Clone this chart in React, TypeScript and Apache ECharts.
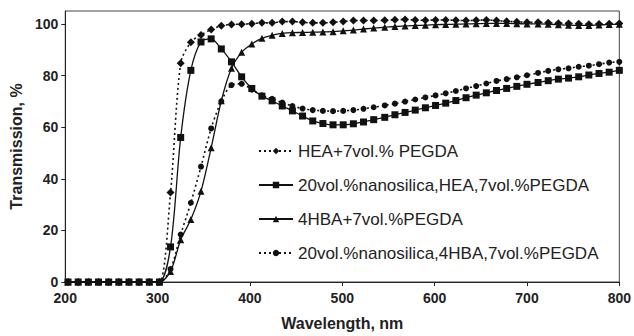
import React, { useEffect, useRef } from "react";
import * as echarts from "echarts";

const wavelengths = [203, 214, 225, 236, 247, 258, 269, 280, 291, 302, 314, 325, 336, 347, 358, 369, 380, 391, 402, 413, 424, 435, 446, 457, 468, 479, 490, 501, 512, 523, 534, 546, 557, 568, 579, 590, 601, 612, 623, 634, 645, 656, 667, 678, 689, 700, 712, 723, 734, 745, 756, 767, 778, 789, 800];

const heaPegda = [0, 0, 0, 0, 0, 0, 0, 0, 0, 0, 34.7, 84.8, 92.9, 95.7, 97.8, 99.3, 99.8, 99.9, 100.1, 100.4, 100.4, 100.9, 100.9, 100.6, 100.4, 100.4, 100.6, 100.9, 101.3, 101.3, 101.3, 101.4, 101.6, 101.7, 101.5, 101.4, 101.5, 101.5, 101.4, 101.3, 101.4, 101.5, 101.3, 101.0, 100.8, 100.6, 100.6, 100.4, 100.3, 100.2, 100.1, 99.9, 100.0, 100.1, 100.2];

const silicaHea = [0, 0, 0, 0, 0, 0, 0, 0, 0, 0, 13.6, 56, 82, 93, 94.2, 90.3, 85.3, 79.5, 75, 72, 70.2, 68.2, 66.3, 64.3, 62.4, 61.4, 60.9, 60.9, 61.3, 62.0, 62.9, 63.8, 64.8, 65.7, 66.6, 67.5, 68.4, 69.3, 70.3, 71.4, 72.4, 73.3, 74.2, 75.0, 75.8, 76.6, 77.3, 78.0, 78.6, 79.0, 79.5, 80.2, 80.8, 81.3, 82.0];

const hbaPegda = [0, 0, 0, 0, 0, 0, 0, 0, 0, 0, 4.1, 16.4, 24.2, 35.2, 52, 70.2, 82.8, 89, 92.2, 94.4, 95.6, 96.3, 96.6, 96.7, 96.8, 96.9, 97.0, 97.3, 97.6, 98.0, 98.4, 98.7, 99.0, 99.2, 99.4, 99.5, 99.7, 99.8, 99.9, 100.0, 100.1, 100.2, 100.2, 100.2, 100.1, 100.0, 100.0, 99.9, 99.7, 99.5, 99.4, 99.4, 99.6, 99.8, 99.9];

const silicaHba = [0, 0, 0, 0, 0, 0, 0, 0, 0, 0, 5, 18.4, 30.7, 44.7, 59.5, 70, 76.3, 76.8, 74.5, 72.3, 71.0, 69.5, 68.2, 67.2, 66.6, 66.3, 66.2, 66.3, 66.6, 67.1, 67.7, 68.4, 69.1, 69.9, 70.7, 71.5, 72.3, 73.1, 74.0, 75.0, 75.9, 76.9, 77.9, 78.6, 79.3, 80.1, 81.0, 81.8, 82.4, 82.8, 83.4, 83.8, 84.4, 85.0, 85.3];

const seriesNames = [
  "HEA+7vol.% PEGDA",
  "20vol.%nanosilica,HEA,7vol.%PEGDA",
  "4HBA+7vol.%PEGDA",
  "20vol.%nanosilica,4HBA,7vol.%PEGDA",
];

const xTitle = "Wavelength, nm";
const yTitle = "Transmission, %";

const FONT = "Arial, 'Liberation Sans', sans-serif";
const INK = "#111";

export default function App() {
  const ref = useRef<HTMLDivElement>(null);
  useEffect(() => {
    if (!ref.current) return;
    const chart = echarts.init(ref.current, null, { renderer: "svg" });
    const pairs = (vals: number[]) => wavelengths.map((w, i) => [w, vals[i]]);
    const mk = (
      name: string,
      vals: number[],
      symbol: string,
      size: number,
      dotted: boolean
    ) => ({
      type: "line",
      name,
      data: pairs(vals),
      symbol,
      symbolSize: size,
      smooth: 0.3,
      lineStyle: { color: INK, width: dotted ? 1.6 : 1.3, type: dotted ? [2, 3] : "solid" },
      itemStyle: { color: INK, borderWidth: 0 },
      clip: false,
    });
    chart.setOption({
      animation: false,
      backgroundColor: "#fff",
      grid: {
        left: 65,
        right: 10,
        top: 11,
        bottom: 54,
        show: true,
        borderColor: "#444",
        borderWidth: 1,
      },
      xAxis: {
        type: "value",
        min: 200,
        max: 800,
        interval: 100,
        name: xTitle,
        nameLocation: "middle",
        nameGap: 33,
        nameTextStyle: { fontFamily: FONT, fontWeight: "bold", fontSize: 16, color: "#222" },
        axisLine: { show: true, lineStyle: { color: "#222", width: 1 } },
        axisTick: { show: true, inside: false, length: 4, lineStyle: { color: "#222" } },
        axisLabel: { fontFamily: FONT, fontWeight: "bold", fontSize: 14, color: "#222", margin: 9 },
        splitLine: { show: false },
      },
      yAxis: {
        type: "value",
        min: 0,
        max: 105,
        interval: 20,
        name: yTitle,
        nameLocation: "middle",
        nameGap: 38,
        nameTextStyle: { fontFamily: FONT, fontWeight: "bold", fontSize: 16, color: "#222" },
        axisLine: { show: true, lineStyle: { color: "#222", width: 1 } },
        axisTick: { show: true, inside: false, length: 4, lineStyle: { color: "#222" } },
        axisLabel: {
          fontFamily: FONT,
          fontWeight: "bold",
          fontSize: 14,
          color: "#222",
          margin: 7,
          showMaxLabel: false,
        },
        splitLine: { show: false },
      },
      legend: {
        orient: "vertical",
        left: 253,
        top: 136,
        itemWidth: 34,
        itemHeight: 8,
        itemGap: 14,
        textStyle: { fontFamily: FONT, fontSize: 17, color: "#222", lineHeight: 20 },
        data: seriesNames,
      },
      series: [
        mk(seriesNames[0], heaPegda, "diamond", 8, true),
        mk(seriesNames[1], silicaHea, "rect", 7, false),
        mk(seriesNames[2], hbaPegda, "triangle", 7, false),
        mk(seriesNames[3], silicaHba, "circle", 6, true),
      ],
    });
    return () => chart.dispose();
  }, []);
  return (
    <div
      ref={ref}
      style={{ position: "absolute", left: 0, top: 0, width: 634, height: 336 }}
    />
  );
}
